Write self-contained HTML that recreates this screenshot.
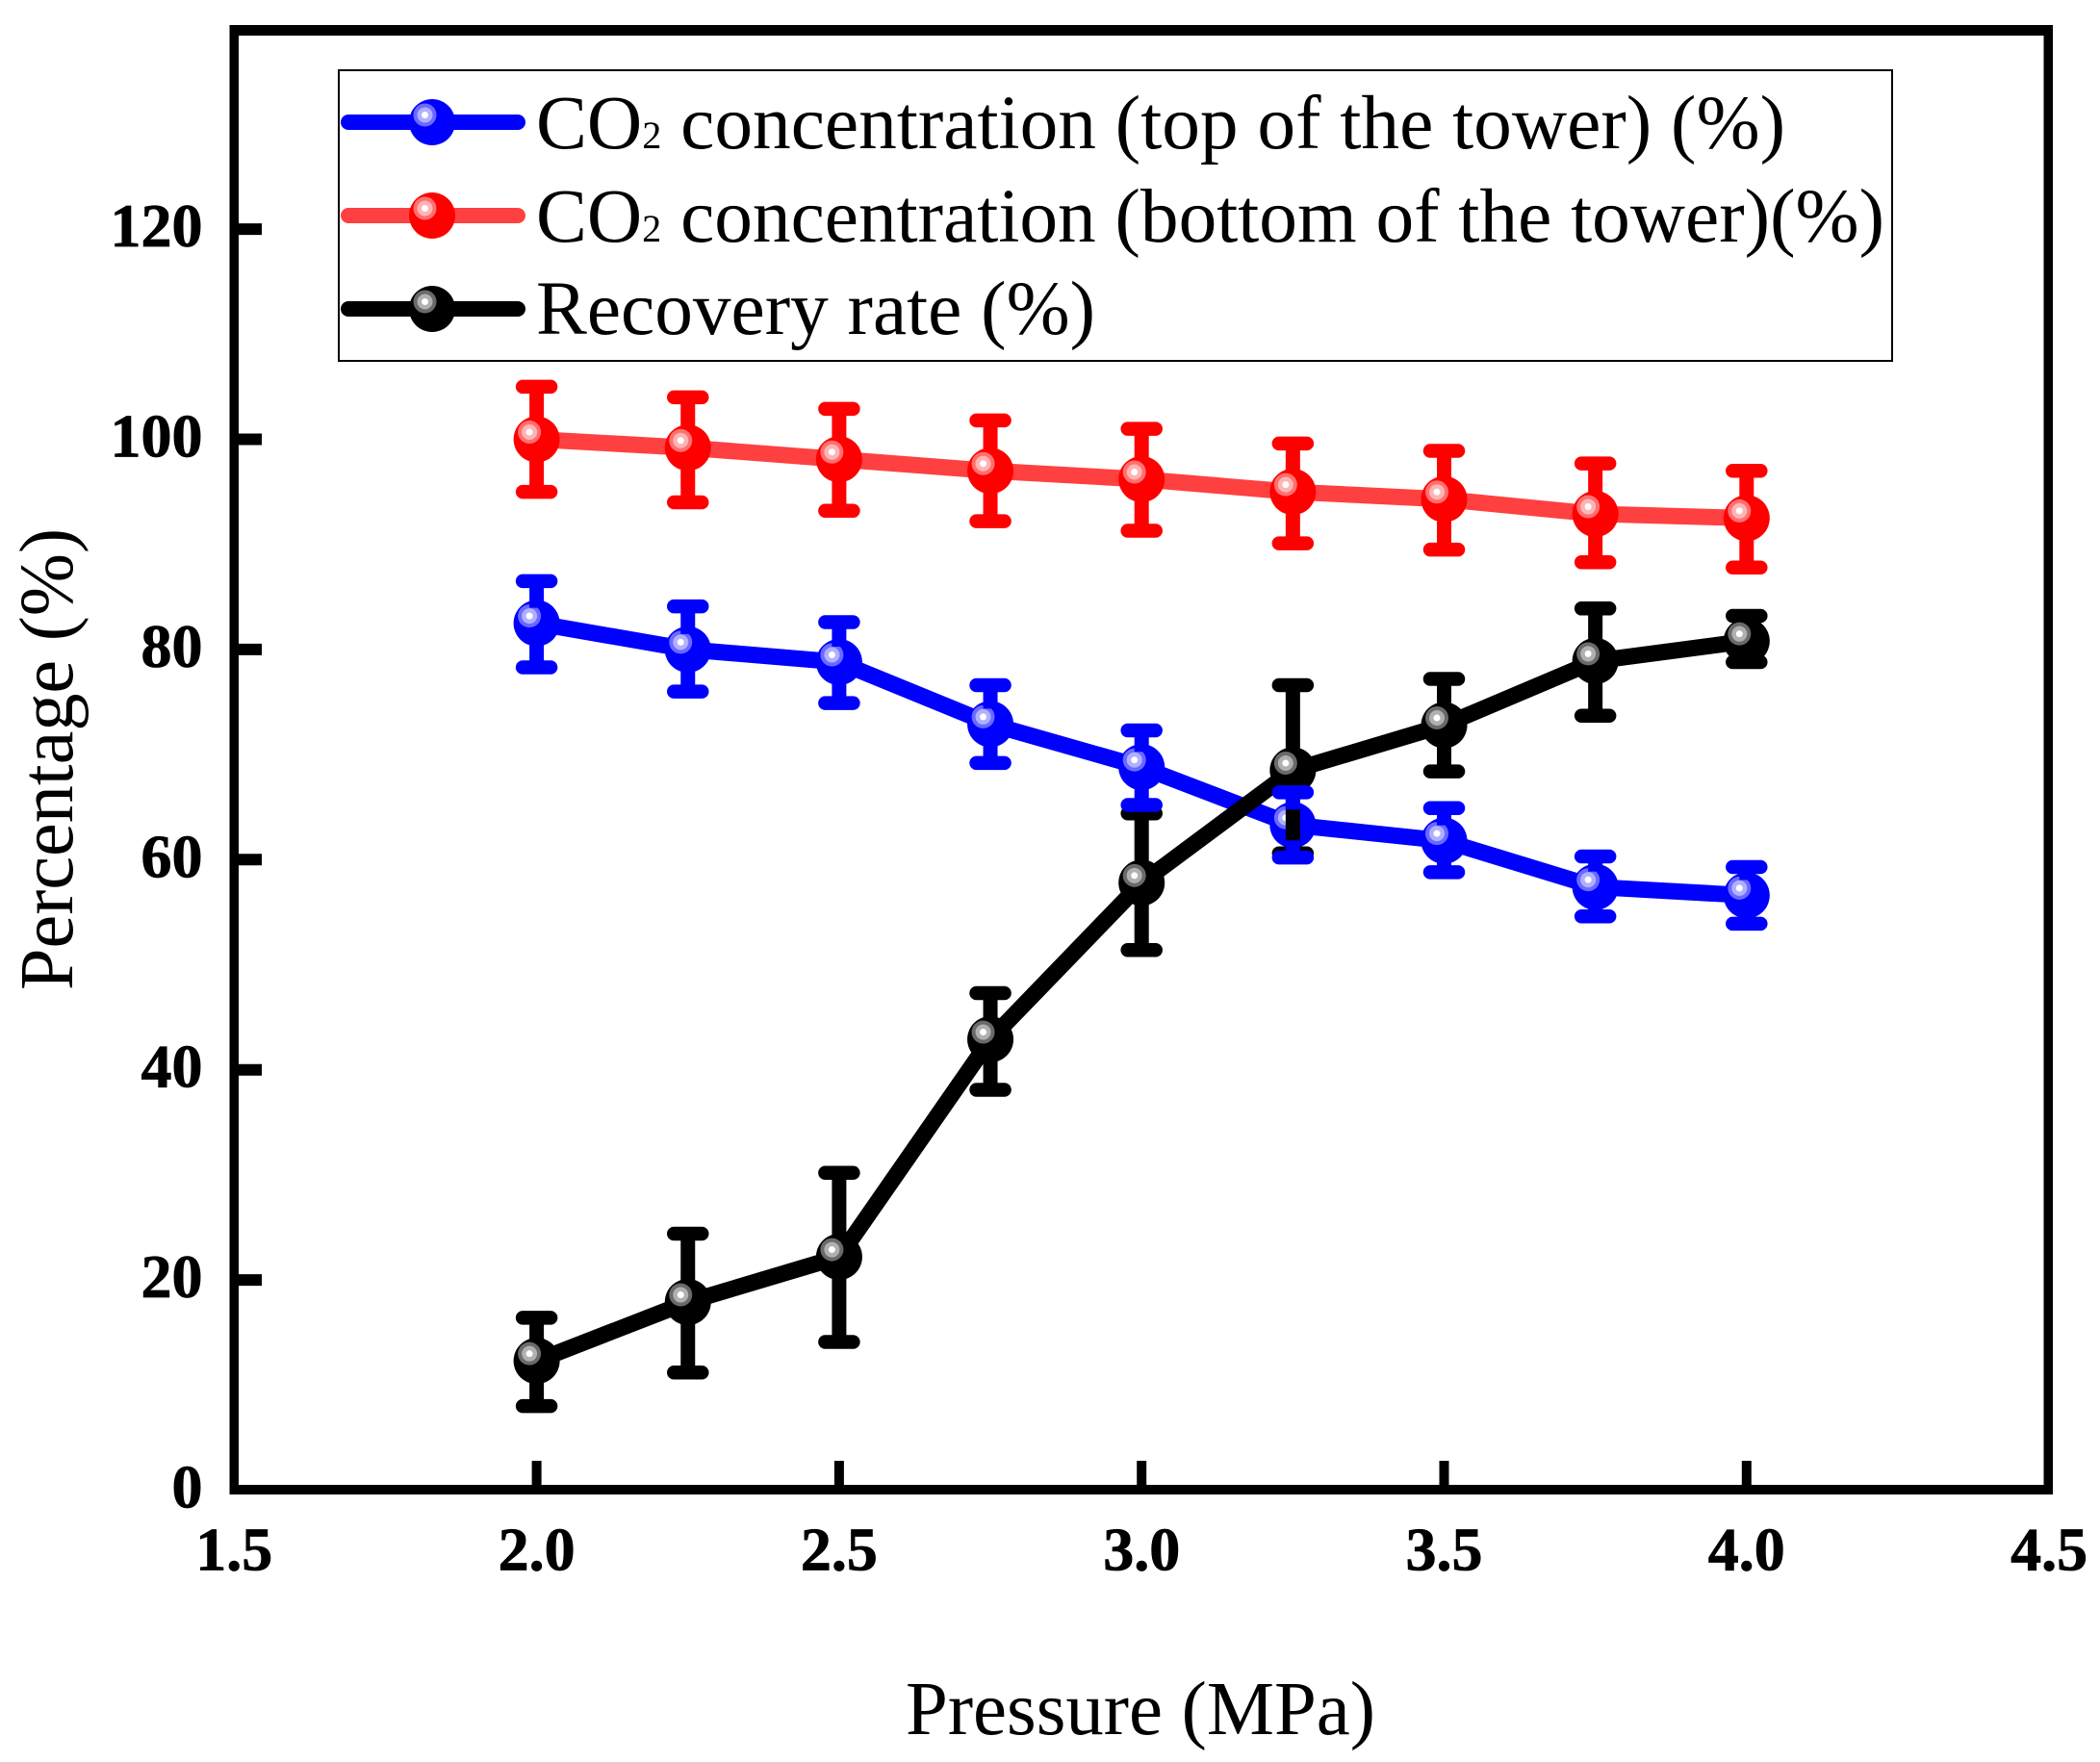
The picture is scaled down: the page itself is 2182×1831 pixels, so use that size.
<!DOCTYPE html>
<html lang="en">
<head>
<meta charset="utf-8">
<title>Percentage vs Pressure</title>
<style>
html,body{margin:0;padding:0;background:#fff;width:2182px;height:1831px;overflow:hidden}
svg{display:block}
text{font-family:"Liberation Serif","Times New Roman",serif;fill:#000}
.tick-label{font-weight:bold;font-size:64px;stroke:#000;stroke-width:0.8px}
.axis-title,.legend-text{font-size:79px}
</style>
</head>
<body>
<svg id="chart" xmlns="http://www.w3.org/2000/svg" width="2182" height="1831" viewBox="0 0 2182 1831">
  <rect x="0" y="0" width="2182" height="1831" fill="#fff"/>
  <g id="series-layer"></g>
  <g id="axes-layer"></g>
  <g>
    <rect x="352" y="73" width="1614" height="302" fill="#fff" stroke="#000" stroke-width="2"/>
    <g id="legend-keys"></g>
    <text class="legend-text" x="557" y="154" textLength="1298" lengthAdjust="spacingAndGlyphs">CO<tspan font-size="40">2</tspan> concentration (top of the tower) (%)</text>
    <text class="legend-text" x="557" y="251" textLength="1401" lengthAdjust="spacingAndGlyphs">CO<tspan font-size="40">2</tspan> concentration (bottom of the tower)(%)</text>
    <text class="legend-text" x="557" y="347" textLength="581" lengthAdjust="spacingAndGlyphs">Recovery rate (%)</text>
  </g>
  <text class="axis-title" x="941" y="1802" textLength="488" lengthAdjust="spacingAndGlyphs">Pressure (MPa)</text>
  <text class="axis-title" transform="translate(75 1029) rotate(-90)" x="0" y="0" textLength="480" lengthAdjust="spacingAndGlyphs">Percentage (%)</text>
</svg>
<script>
const pressure = [2.0, 2.25, 2.5, 2.75, 3.0, 3.25, 3.5, 3.75, 4.0];

const co2Top = [82.5, 80.0, 78.8, 72.9, 68.8, 63.3, 61.8, 57.4, 56.6];
const co2TopHigh = [86.5, 84.1, 82.6, 76.6, 72.3, 66.4, 64.9, 60.3, 59.3];
const co2TopLow = [78.3, 76.0, 74.9, 69.2, 65.2, 60.2, 58.8, 54.6, 53.9];

const co2Bottom = [100, 99.2, 98.1, 97.0, 96.2, 95.0, 94.3, 92.9, 92.5];
const co2BottomHigh = [105, 104, 102.9, 101.8, 101, 99.6, 98.9, 97.7, 97];
const co2BottomLow = [95, 94, 93.2, 92.2, 91.3, 90.1, 89.5, 88.3, 87.8];

const recovery = [12.3, 17.9, 22.2, 42.9, 57.8, 68.5, 72.8, 78.9, 80.8];
const recoveryHigh = [16.4, 24.4, 30.2, 47.3, 64.4, 76.6, 77.2, 83.9, 83.2];
const recoveryLow = [8.0, 11.2, 14.1, 38.1, 51.4, 60.6, 68.4, 73.7, 78.8];

const xTickValues = [1.5, 2.0, 2.5, 3.0, 3.5, 4.0, 4.5];
const xTickLabels = ['1.5', '2.0', '2.5', '3.0', '3.5', '4.0', '4.5'];
const yTickValues = [0, 20, 40, 60, 80, 100, 120];
const yTickLabels = ['0', '20', '40', '60', '80', '100', '120'];

const NS = 'http://www.w3.org/2000/svg';
function xScale(v) { return 243.3 + (v - 1.5) * 628.6; }
function yScale(v) { return 1548.5 - v * 10.92; }

function make(parent, tag, attrs, text) {
  const el = document.createElementNS(NS, tag);
  for (const k in attrs) el.setAttribute(k, attrs[k]);
  if (text !== undefined) el.textContent = text;
  parent.appendChild(el);
  return el;
}

const R = 24;

function drawMarker(parent, cx, cy, c, name) {
  const g = make(parent, 'g', {});
  
  
  make(g, 'circle', { cx: cx, cy: cy, r: R, fill: c.main });
  make(g, 'circle', { cx: cx - 7.5, cy: cy - 7.5, r: 12, fill: c.h1 });
  make(g, 'circle', { cx: cx - 7.5, cy: cy - 7.5, r: 8, fill: c.h2 });
  make(g, 'circle', { cx: cx - 7.5, cy: cy - 7.5, r: 3.5, fill: '#fff' });
}

function drawErrors(parent, vals, hi, lo, c, name, gap) {
  pressure.forEach(function (p, i) {
    const g = make(parent, 'g', { stroke: c.main, fill: 'none' });
    
    
    const x = xScale(p);
    const y = yScale(vals[i]);
    const top = yScale(hi[i]);
    const bot = yScale(lo[i]);
    make(g, 'line', { x1: x, x2: x, y1: top, y2: gap ? Math.max(top, y - R + 8) : y, 'stroke-width': 15 });
    make(g, 'line', { x1: x, x2: x, y1: bot, y2: gap ? Math.min(bot, y + R - 8) : y, 'stroke-width': 15 });
    make(g, 'line', { x1: x - 14.5, x2: x + 14.5, y1: top, y2: top, 'stroke-width': 14.5, 'stroke-linecap': 'round' });
    make(g, 'line', { x1: x - 14.5, x2: x + 14.5, y1: bot, y2: bot, 'stroke-width': 14.5, 'stroke-linecap': 'round' });
  });
}

function drawLine(parent, vals, c, name) {
  const pts = pressure.map(function (p, i) { return xScale(p) + ',' + yScale(vals[i]); }).join(' ');
  const line = make(parent, 'polyline', { points: pts, fill: 'none', stroke: c.line, 'stroke-width': 17, 'stroke-linejoin': 'round' });
  
  
}

function drawMarkers(parent, vals, c, name) {
  pressure.forEach(function (p, i) {
    drawMarker(parent, xScale(p), yScale(vals[i]), c, name + '-point');
  });
}

const blue = { main: '#0000ff', line: '#0000ff', h1: '#6a6aff', h2: '#b0b0ff' };
const red = { main: '#ff0000', line: '#ff4040', h1: '#ff7070', h2: '#ffb4b4' };
const black = { main: '#000000', line: '#000000', h1: '#6a6a6a', h2: '#b0b0b0' };

const layer = document.getElementById('series-layer');

drawLine(layer, co2Top, blue, 'co2-top');
drawMarkers(layer, co2Top, blue, 'co2-top');

drawErrors(layer, co2Bottom, co2BottomHigh, co2BottomLow, red, 'co2-bottom', false);
drawLine(layer, co2Bottom, red, 'co2-bottom');
drawMarkers(layer, co2Bottom, red, 'co2-bottom');

drawLine(layer, recovery, black, 'recovery');
drawErrors(layer, recovery, recoveryHigh, recoveryLow, black, 'recovery', false);
drawMarkers(layer, recovery, black, 'recovery');

drawErrors(layer, co2Top, co2TopHigh, co2TopLow, blue, 'co2-top', true);

const axes = document.getElementById('axes-layer');

xTickValues.forEach(function (v, i) {
  const x = xScale(v);
  if (i > 0 && i < xTickValues.length - 1) {
    const t = make(axes, 'line', { x1: x, x2: x, y1: 1518, y2: 1544, stroke: '#000', 'stroke-width': 10 });
    
    
  }
  const l = make(axes, 'text', { x: x, y: 1631.5, 'text-anchor': 'middle', class: 'tick-label' }, xTickLabels[i]);
  
  
});

yTickValues.forEach(function (v, i) {
  const y = yScale(v);
  if (i > 0) {
    const t = make(axes, 'line', { x1: 247, x2: 272, y1: y, y2: y, stroke: '#000', 'stroke-width': 12 });
    
    
  }
  const l = make(axes, 'text', { x: 210.5, y: y + 18, 'text-anchor': 'end', class: 'tick-label' }, yTickLabels[i]);
  
  
});

const frameLeft = make(axes, 'rect', { x: 238.5, y: 26, width: 9.5, height: 1527, fill: '#000' });


const frameRight = make(axes, 'rect', { x: 2123.5, y: 26, width: 9.5, height: 1527, fill: '#000' });


const frameTop = make(axes, 'rect', { x: 238.5, y: 26, width: 1894.5, height: 11, fill: '#000' });


const frameBottom = make(axes, 'rect', { x: 238.5, y: 1543, width: 1894.5, height: 10, fill: '#000' });



const keys = document.getElementById('legend-keys');
function legendKey(y, c, name) {
  const k = make(keys, 'line', { x1: 362, x2: 538, y1: y, y2: y, stroke: c.line, 'stroke-width': 16, 'stroke-linecap': 'round' });
  
  
  drawMarker(keys, 449, y, c, name + '-legend-marker');
}
legendKey(127, blue, 'co2-top');
legendKey(224, red, 'co2-bottom');
legendKey(321, black, 'recovery');
</script>
</body>
</html>
